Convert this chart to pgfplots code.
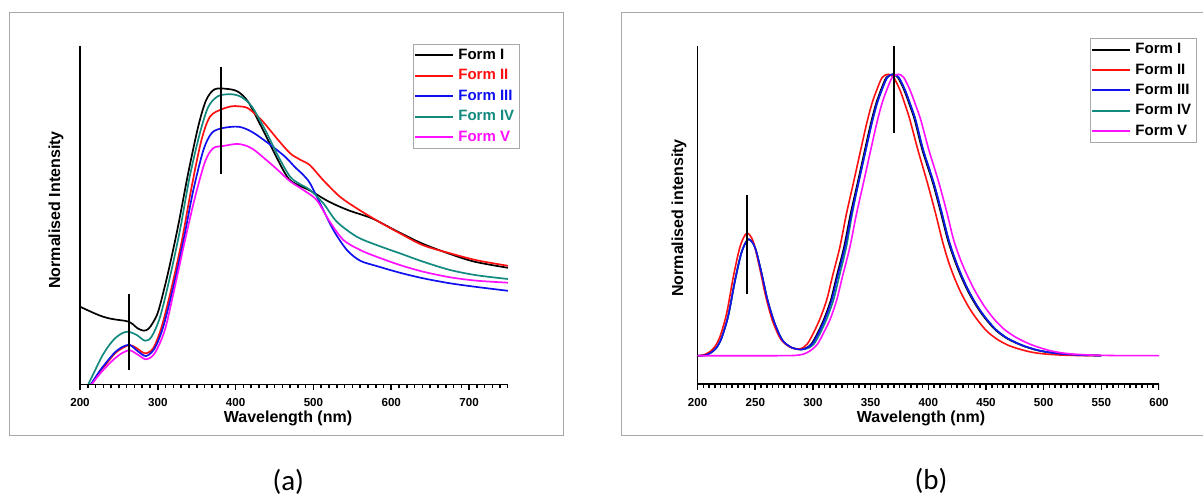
\documentclass[border=0pt]{standalone}
\usepackage{fontspec}
\setmainfont{Liberation Sans}
\newfontfamily\calibri{Carlito}
\usepackage{pgfplots}
\pgfplotsset{compat=1.18}
\definecolor{cRed}{HTML}{FF1010}
\definecolor{cBlue}{HTML}{1010F0}
\definecolor{cTeal}{HTML}{138A80}
\definecolor{cMag}{HTML}{FF10FF}
\definecolor{frameg}{HTML}{A8A8A8}
\pgfplotsset{
  panel/.style={
    scale only axis, height=344pt, ymin=-6, ymax=338,
    axis x line*=bottom, axis y line*=left,
    x axis line style={draw=none},
    y axis line style={line width=1.5pt},
    ymajorticks=false, yminorticks=false,
    tick align=outside, tickwidth=0pt, subtickwidth=0pt,
    xticklabel style={font=\bfseries\fontsize{11.6}{12}\selectfont, yshift=-4.5pt},
    /pgf/number format/assume math mode=true,
    legend cell align=left,
    legend image code/.code={\draw[##1, line width=2pt] (0pt,0pt) -- (38pt,0pt);},
  },
  tk/.style={ycomb, black, line width=1.6pt, forget plot},
}
\begin{document}
\begin{tikzpicture}
\fill[white] (0pt,0pt) rectangle (1203pt,498pt);
\draw[frameg, line width=1pt] (9pt,485pt) rectangle (563pt,62pt);
\begin{scope}
\clip (0pt,0pt) rectangle (1203pt,498pt);
\draw[frameg, line width=1pt] (621pt,485.3pt) rectangle (1210pt,62pt);
\end{scope}
% ---------------- panel (a)
\begin{axis}[panel, at={(80pt,107.7pt)}, anchor=south west,
  width=428pt, xmin=200, xmax=750, xtick={200,300,...,700},
  legend style={at={(0.778,1.007)}, anchor=north west, draw=frameg, line width=0.8pt,
    font=\bfseries\fontsize{15}{16}\selectfont, inner xsep=1pt, inner ysep=1pt,
    nodes={text height=11pt, text depth=3pt, inner ysep=3.2pt, inner xsep=4pt}}]
\addplot[black, line width=1.7pt, smooth] coordinates {(200,77.6) (210,74) (220,70.5) (230,67.5) (240,65.5) (250,64.3) (258,63.5) (263,62.5) (268,60) (274,56) (282,53.6) (288,55.5) (294,62) (301,74) (313,111) (326,158) (339,211) (352,258) (362,284) (373,295) (390,295.3) (403,292.6) (416,282.6) (433,257.6) (450,231) (462,213) (470,204) (482,198.5) (495,194) (520,182.6) (545,174) (575,166) (605,154) (639,141) (673,131) (707,122.6) (750,116.5)};
\addlegendentry[text=black]{Form I}
\addplot[cRed, line width=1.7pt, smooth] coordinates {(215,0) (225,12) (236,22.6) (245,31) (254,36) (264,39.3) (273,36) (283.5,31) (294,36) (305,57.6) (318,97.6) (331,144) (343.5,197.6) (356,244) (367,267.6) (382,275) (395,278) (403.5,278) (416,276) (433.5,264) (455,244) (470,231) (482,225) (495.6,219) (512.7,204) (534,187.6) (555.6,176) (581,164) (611,151) (641,139) (675.6,131) (710,124) (750,118.5)};
\addlegendentry[text=cRed]{Form II}
\addplot[cBlue, line width=1.7pt, smooth] coordinates {(214,0) (225,13) (236,24) (245,32) (253.6,37) (264,39.3) (275,32.6) (285,28.3) (296,36) (307,57.6) (320,97.6) (333,144) (345.6,194) (358.5,234) (369,251) (382,256) (403.5,257.6) (420.6,252.6) (442,241) (463.5,227.6) (476.5,217) (487,209.3) (495.6,201) (508.5,181) (525.6,154.3) (543,134.3) (560,123.6) (581,118.3) (611,111.6) (641,106) (675.6,101) (710,97.3) (750,93.5)};
\addlegendentry[text=cBlue]{Form III}
\addplot[cTeal, line width=1.7pt, smooth] coordinates {(210.7,0) (220,15) (228,27.6) (236,37.5) (245,46) (254,51) (262,52.6) (273,49.3) (283.5,43.6) (292,47.6) (303,67.6) (315.7,107.6) (328.5,154.3) (341,207.6) (354,251) (365,277.6) (377.8,288.3) (395,290) (408,287) (421,277.6) (438,254.3) (455,227.6) (470,207.6) (482,200.5) (495.6,194.3) (512.7,181) (530,162.6) (555.6,147.6) (581,139.3) (611,131) (641,122.6) (675.6,114.3) (710,109) (750,105.3)};
\addlegendentry[text=cTeal]{Form IV}
\addplot[cMag, line width=1.7pt, smooth] coordinates {(215,0) (225,10) (236,19.3) (245,26) (253.6,31) (264,34) (275,29.3) (285,25) (296,31) (309,54.3) (321,94.3) (335,144.3) (348,187.6) (360.7,222.6) (371,236) (384,238.3) (403.5,240.3) (420.6,236) (442,222.6) (456,213) (470,203) (487,194.3) (504,184.3) (521,162.6) (538.5,144.3) (560,134.3) (581,127.6) (611,119.3) (641,112.6) (675.6,107) (710,103.6) (750,101.6)};
\addlegendentry[text=cMag]{Form V}
\addplot[black, line width=1.6pt, forget plot] coordinates {(263,14.3) (263,90.3)};
\addplot[black, line width=1.6pt, forget plot] coordinates {(381,210.3) (381,317.6)};
% x axis line and tick marks
\addplot[black, line width=1.5pt, forget plot] coordinates {(200,0) (750,0)};
\addplot[tk] coordinates {(200,-6) (300,-6) (400,-6) (500,-6) (600,-6) (700,-6)};
\addplot[tk] coordinates {(210,-4) (220,-4) (230,-4) (240,-4) (250,-4) (260,-4) (270,-4) (280,-4) (290,-4)
 (310,-4) (320,-4) (330,-4) (340,-4) (350,-4) (360,-4) (370,-4) (380,-4) (390,-4)
 (410,-4) (420,-4) (430,-4) (440,-4) (450,-4) (460,-4) (470,-4) (480,-4) (490,-4)
 (510,-4) (520,-4) (530,-4) (540,-4) (550,-4) (560,-4) (570,-4) (580,-4) (590,-4)
 (610,-4) (620,-4) (630,-4) (640,-4) (650,-4) (660,-4) (670,-4) (680,-4) (690,-4)
 (710,-4) (720,-4) (730,-4) (740,-4) (750,-4)};
\end{axis}
% ---------------- panel (b)
\begin{axis}[panel, at={(697.6pt,108pt)}, anchor=south west,
  width=461.4pt, xmin=200, xmax=600, xtick={200,250,...,600},
  legend style={at={(0.8505,1.023)}, anchor=north west, draw=frameg, line width=0.8pt,
    font=\bfseries\fontsize{15}{16}\selectfont, inner xsep=1pt, inner ysep=1pt,
    nodes={text height=11pt, text depth=3pt, inner ysep=3.2pt, inner xsep=4pt}}]
% Form I (black)
\addplot[black, line width=1.6pt, smooth, forget plot] coordinates {(200,28.3) (206.4,28.8) (211.4,31.2) (216.4,36.4) (220.8,46.1) (226.6,68.4) (232.4,103.4) (238.2,132) (244,144.7) (249.7,136.7) (255.4,111) (260.4,85) (266.4,62) (273.4,44) (281.4,36.5) (289,34.5) (294,36) (298.6,40) (303.9,50.7) (309.6,65) (315.5,84) (320.6,108) (327,137.3) (332.6,170) (338.6,200.7) (344.6,232) (350.2,260.7) (354.6,280) (358.9,294) (363.6,306.5) (368.9,309.7) (373.6,306.5) (379,294) (383.8,279) (388.2,264) (394.8,234) (403.7,202) (410.7,172) (416.9,144) (422.7,124) (428.2,108) (434.7,92) (442.2,77) (449.7,65) (458.2,54) (468.2,45.5) (481.2,38.5) (495.2,33.5) (511.2,30.5) (529.2,29) (550,28.4)};
% Form IV (teal)
\addplot[cTeal, line width=1.6pt, smooth, forget plot] coordinates {(200,28.3) (206.4,28.8) (211.4,31.2) (216.4,36.4) (220.8,46.1) (226.6,68.4) (232.4,103.4) (238.2,132) (244,144.7) (249.7,136.7) (255.4,111) (260.4,85) (266.4,62) (273.4,44) (281.4,36.5) (290.5,34.5) (296,36) (300.9,40) (306.2,50.7) (311.9,65) (317.8,84) (322.9,108) (329,137.3) (334,170) (339.4,200.7) (345.4,232) (351,260.7) (355.4,280) (359.7,294) (364.4,306.5) (369.7,309.7) (374.4,306.5) (379.8,294) (384.6,279) (389,264) (395.6,234) (404.5,202) (411.5,172) (417.7,144) (423.5,124) (429,108) (435.5,92) (443,77) (450.5,65) (459,54) (469,45.5) (482,38.5) (496,33.5) (512,30.5) (530,29) (550,28.4)};
% Form II (red)
\addplot[cRed, line width=1.6pt, smooth, forget plot] coordinates {(200,28.3) (205,28.9) (210.7,32.3) (215,37.5) (219.4,47.3) (225.2,70.7) (231,107.3) (236.8,137.3) (242.6,150.7) (248.3,142.3) (254,115) (259,88) (265,63) (272,45) (280,37) (288.8,35) (295,40) (300.3,50.7) (306,65) (311.9,84) (317,108) (323.4,137.3) (329,170) (335,200.7) (341,232) (346.6,260.7) (351,280) (355.3,294) (360,306.5) (365.3,309.7) (370,306.5) (375.4,294) (380,279) (384.1,264) (391,234) (399,202) (406,172) (412,144) (417,124) (422,108) (428,92) (435,77) (442,65) (450.6,53) (460,44.5) (470.8,38) (485,33) (497,30.5) (514,29) (530,28.5) (550,28.3)};
% Form III (blue)
\addplot[cBlue, line width=1.6pt, smooth, forget plot] coordinates {(200,28.3) (206.4,28.8) (211.4,31.2) (216.4,36.4) (220.8,46.1) (226.6,68.4) (232.4,103.4) (238.2,132) (244,144.7) (249.7,136.7) (255.4,111) (260.4,85) (266.4,62) (273.4,44) (281.4,36.5) (289.5,34.5) (294.5,36) (299.4,40) (304.7,50.7) (310.4,65) (316.3,84) (321.4,108) (327.8,137.3) (333.4,170) (339.4,200.7) (345.4,232) (351,260.7) (355.4,280) (359.7,294) (364.4,306.5) (369.7,309.7) (374.4,306.5) (379.8,294) (384.6,279) (389,264) (395.6,234) (404.5,202) (411.5,172) (417.7,144) (423.5,124) (429,108) (435.5,92) (443,77) (450.5,65) (459,54) (469,45.5) (482,38.5) (496,33.5) (512,30.5) (530,29) (550,28.4)};
% Form V (magenta)
\addplot[cMag, line width=1.6pt, smooth, forget plot] coordinates {(200,28.3) (270,28.3) (285,28.6) (292,30) (298,33.5) (304,40) (309,50.7) (315,65) (320.6,84) (325.7,108) (332.1,137.3) (337.7,170) (343.7,200.7) (349.7,232) (355.3,260.7) (359.7,280) (364,294) (368.7,306.5) (374,309.7) (378.7,306.5) (384.1,294) (389,279) (393.5,264) (400.5,234) (409,202) (416,172) (422,144) (428,124) (434,108) (441,92) (449,77) (457,65) (466,54.5) (477,46) (490,39) (505,33.5) (520,30.5) (540,29) (565,28.4) (600,28.3)};
\addplot[black, line width=1.6pt, forget plot] coordinates {(242.6,90) (242.6,189)};
\addplot[black, line width=1.6pt, forget plot] coordinates {(370.3,250.7) (370.3,338)};
% x axis line and tick marks
\addplot[black, line width=1.5pt, forget plot] coordinates {(200,0) (600,0)};
\addplot[tk] coordinates {(200,-6) (250,-6) (300,-6) (350,-6) (400,-6) (450,-6) (500,-6) (550,-6) (600,-6)};
\addplot[tk] coordinates {(205,-4) (210,-4) (215,-4) (220,-4) (225,-4) (230,-4) (235,-4) (240,-4) (245,-4)
 (255,-4) (260,-4) (265,-4) (270,-4) (275,-4) (280,-4) (285,-4) (290,-4) (295,-4)
 (305,-4) (310,-4) (315,-4) (320,-4) (325,-4) (330,-4) (335,-4) (340,-4) (345,-4)
 (355,-4) (360,-4) (365,-4) (370,-4) (375,-4) (380,-4) (385,-4) (390,-4) (395,-4)
 (405,-4) (410,-4) (415,-4) (420,-4) (425,-4) (430,-4) (435,-4) (440,-4) (445,-4)
 (455,-4) (460,-4) (465,-4) (470,-4) (475,-4) (480,-4) (485,-4) (490,-4) (495,-4)
 (505,-4) (510,-4) (515,-4) (520,-4) (525,-4) (530,-4) (535,-4) (540,-4) (545,-4)
 (555,-4) (560,-4) (565,-4) (570,-4) (575,-4) (580,-4) (585,-4) (590,-4) (595,-4)};
\addlegendimage{black}
\addlegendentry{Form I}
\addlegendimage{cRed}
\addlegendentry{Form II}
\addlegendimage{cBlue}
\addlegendentry{Form III}
\addlegendimage{cTeal}
\addlegendentry{Form IV}
\addlegendimage{cMag}
\addlegendentry{Form V}
\end{axis}
% ---------------- labels
\node[rotate=90, font=\bfseries\fontsize{16}{18}\selectfont] at (56pt,288pt) {Normalised Intensity};
\node[font=\bfseries\fontsize{16}{18}\selectfont] at (288pt,79.2pt) {Wavelength (nm)};
\node[rotate=90, font=\bfseries\fontsize{16}{18}\selectfont] at (679pt,280pt) {Normalised intensity};
\node[font=\bfseries\fontsize{16}{18}\selectfont] at (921pt,79.2pt) {Wavelength (nm)};
\node[font=\calibri\fontsize{29}{32}\selectfont] at (288.3pt,16pt) {(a)};
\node[font=\calibri\fontsize{29}{32}\selectfont] at (931pt,17pt) {(b)};
\end{tikzpicture}
\end{document}
